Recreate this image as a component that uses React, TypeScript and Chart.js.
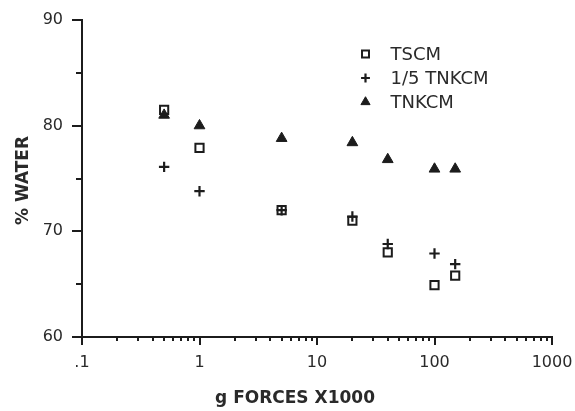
import React, { useEffect, useRef } from "react";
import { Chart, registerables } from "chart.js";
import { drawPoint } from "chart.js/helpers";

Chart.register(...registerables);

// ---- data ----
const forces = [0.5, 1, 5, 20, 40, 100, 150];
const tscm = [81.5, 77.9, 72.0, 71.0, 68.0, 64.9, 65.8];
const tnkcmFifth = [76.1, 73.8, 72.0, 71.4, 68.8, 67.9, 66.9];
const tnkcm = [81.0, 80.0, 78.8, 78.4, 76.8, 75.9, 75.9];

const seriesNames = ["TSCM", "1/5 TNKCM", "TNKCM"];
const xMajorTicks = [0.1, 1, 10, 100, 1000];
const xTickLabels = [".1", "1", "10", "100", "1000"];
const xMinorMultipliers = [2, 3, 4, 5, 6, 7, 8, 9];
const yMajorTicks = [60, 70, 80, 90];
const yMinorTicks = [65, 75, 85];
const xTitle = "g FORCES X1000";
const yTitle = "% WATER";

const INK = "#1c1c1c";
const TEXT = "#2a2a2a";
const FONT = "'DejaVu Sans', sans-serif";

const pointStyles = ["rect", "cross", "triangle"];
const pointRadii = [5.8, 5.2, 6.2];

const decorPlugin = {
  id: "decor",
  afterDraw(chart: any) {
    const { ctx, chartArea, scales } = chart;
    const xs = scales.x;
    const ys = scales.y;
    ctx.save();
    ctx.strokeStyle = INK;
    ctx.lineWidth = 2;
    // x ticks (outward, below)
    const drawX = (v: number, len: number) => {
      const px = Math.round(xs.getPixelForValue(v));
      ctx.beginPath();
      ctx.moveTo(px, chartArea.bottom);
      ctx.lineTo(px, chartArea.bottom + len);
      ctx.stroke();
    };
    xMajorTicks.forEach((v) => drawX(v, 8));
    xMajorTicks.slice(0, -1).forEach((d) =>
      xMinorMultipliers.forEach((m) => drawX(d * m, 4))
    );
    // y ticks (outward, left)
    const drawY = (v: number, len: number) => {
      const py = Math.round(ys.getPixelForValue(v));
      ctx.beginPath();
      ctx.moveTo(chartArea.left, py);
      ctx.lineTo(chartArea.left - len, py);
      ctx.stroke();
    };
    yMajorTicks.forEach((v) => drawY(v, 10));
    yMinorTicks.forEach((v) => drawY(v, 6));

    // axis titles
    ctx.fillStyle = TEXT;
    ctx.font = `bold 17px ${FONT}`;
    ctx.textAlign = "center";
    ctx.textBaseline = "middle";
    ctx.fillText(xTitle, chartArea.left + 213, 399);
    ctx.save();
    ctx.translate(24, (chartArea.top + chartArea.bottom) / 2 + 2);
    ctx.rotate(-Math.PI / 2);
    ctx.fillText(yTitle, 0, 0);
    ctx.restore();

    // legend
    const lx = chartArea.left + 283.5;
    const ly = chartArea.top + 34;
    ctx.font = `18px ${FONT}`;
    ctx.textAlign = "left";
    chart.data.datasets.forEach((ds: any, i: number) => {
      const y = ly + i * 24;
      ctx.strokeStyle = INK;
      ctx.fillStyle = ds.backgroundColor;
      ctx.lineWidth = ds.borderWidth;
      drawPoint(ctx, { pointStyle: ds.pointStyle, radius: ds.pointRadius * 0.85, rotation: 0, borderWidth: ds.borderWidth }, lx, y);
      ctx.fillStyle = TEXT;
      ctx.fillText(ds.label, lx + 25, y + 1);
    });
    ctx.restore();
  },
};

export default function App() {
  const ref = useRef<HTMLCanvasElement | null>(null);
  useEffect(() => {
    document.body.style.margin = "0";
    const series = [tscm, tnkcmFifth, tnkcm];
    const chart = new Chart(ref.current as HTMLCanvasElement, {
      type: "scatter",
      data: {
        datasets: series.map((vals, i) => ({
          label: seriesNames[i],
          data: forces.map((f, j) => ({ x: f, y: vals[j] })),
          pointStyle: pointStyles[i] as any,
          pointRadius: pointRadii[i],
          pointHoverRadius: pointRadii[i],
          borderColor: INK,
          backgroundColor: i === 2 ? INK : "rgba(0,0,0,0)",
          borderWidth: i === 1 ? 2.2 : i === 0 ? 2 : 1,
        })),
      },
      options: {
        animation: false,
        responsive: false,
        maintainAspectRatio: false,
        layout: { padding: { top: 20, right: 23, left: 0, bottom: 0 } },
        plugins: { legend: { display: false }, tooltip: { enabled: false } },
        scales: {
          x: {
            type: "logarithmic",
            position: "bottom",
            min: 0.1,
            max: 1000,
            afterBuildTicks: (s: any) => {
              s.ticks = xMajorTicks.map((v) => ({ value: v }));
            },
            afterFit: (s: any) => {
              s.height = 74;
              s.paddingLeft = 0;
              s.paddingRight = 0;
            },
            grid: { display: false, drawTicks: false },
            border: { display: true, color: INK, width: 2 },
            ticks: {
              autoSkip: false,
              maxRotation: 0,
              padding: 16,
              color: TEXT,
              font: { family: FONT, size: 16 },
              callback: (v: any) => xTickLabels[xMajorTicks.indexOf(Number(v))] ?? "",
            },
          },
          y: {
            min: 60,
            max: 90,
            afterBuildTicks: (s: any) => {
              s.ticks = yMajorTicks.map((v) => ({ value: v }));
            },
            afterFit: (s: any) => {
              s.width = 82;
              s.paddingTop = 0;
              s.paddingBottom = 0;
            },
            grid: { display: false, drawTicks: false },
            border: { display: true, color: INK, width: 2 },
            ticks: {
              padding: 19,
              color: TEXT,
              font: { family: FONT, size: 16 },
              callback: (v: any) => String(v),
            },
          },
        },
      },
      plugins: [decorPlugin],
    });
    return () => chart.destroy();
  }, []);
  return (
    <div style={{ width: 575, height: 411 }}>
      <canvas ref={ref} width={575} height={411} style={{ display: "block" }} />
    </div>
  );
}
